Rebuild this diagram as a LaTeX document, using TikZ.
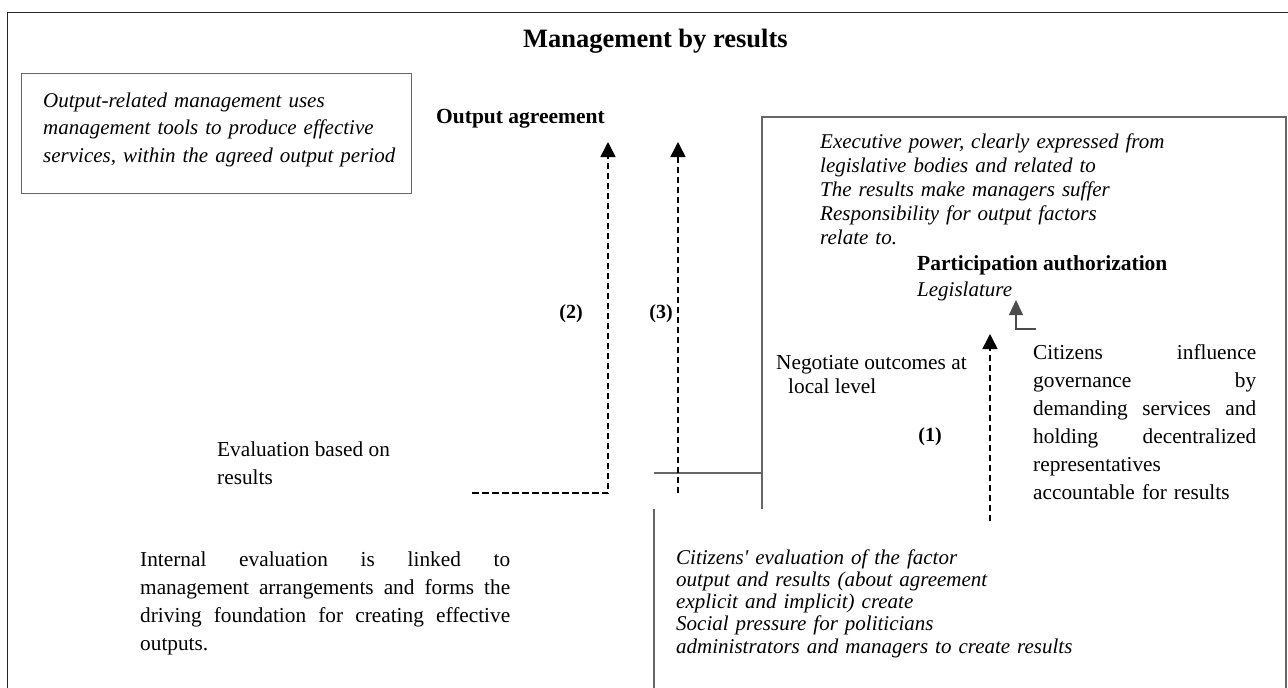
\documentclass[tikz,border=0pt]{standalone}
\usepackage{fontspec}
\setmainfont{Liberation Serif}
\usetikzlibrary{arrows.meta}
% one line spread to a given width (words separated by \hfill)
\newcommand\spreadline[2]{\leavevmode\hbox to #1{#2}}

\begin{document}
\begin{tikzpicture}[x=1pt,y=-1pt,
  frameline/.style={draw=black!85, line width=1pt},
  boxline/.style={draw=black!60, line width=1.2pt},
  flow/.style={draw=black, line width=1.6pt, dash pattern=on 6.5pt off 3.5pt,
    -{Triangle[width=15pt,length=15pt]}},
  elbow/.style={draw=black!70, line width=1.2pt, -{Triangle[width=14pt,length=15pt]}},
  regular/.style={font=\fontsize{21.3}{28}\selectfont, inner sep=0pt, anchor=north west, align=left},
  slanted/.style={font=\fontsize{21}{24}\selectfont\itshape, inner sep=0pt, anchor=north west, align=left},
  heading/.style={font=\fontsize{21.5}{26}\selectfont\bfseries, inner sep=0pt},
  tag/.style={font=\fontsize{20}{24}\selectfont\bfseries, inner sep=0pt}
]
\useasboundingbox (0,0) rectangle (1288,688);

% outer frame (open at right and bottom)
\draw[frameline] (7,688) -- (7,12) -- (1288,12);

% title
\node[font=\fontsize{26.5}{30}\selectfont\bfseries, inner sep=0pt, anchor=base west] (title) at (523,47) {Management by results};

% output-related management box
\node[draw, boxline, inner sep=0pt, minimum width=390pt, minimum height=120pt, anchor=north west] (outbox) at (21,73) {};
\node[slanted, font=\fontsize{21}{27.5}\selectfont\itshape, text width=370pt] (outtext) at (43,87.75) {\strut Output-related management uses\\
management tools to produce effective\\
services, within the agreed output period};

% output agreement
\node[heading, anchor=base west] (agree) at (436,123) {Output agreement};

% executive power box
\draw[boxline] (762,509) -- (762,117) -- (1286,117) -- (1286,688);
\node[slanted, text width=440pt] (exec) at (820,131.2) {\strut Executive power, clearly expressed from\\
legislative bodies and related to\\
The results make managers suffer\\
Responsibility for output factors\\
relate to.};
\node[heading, anchor=base west] (partic) at (917,270) {Participation authorization};
\node[font=\fontsize{21}{24}\selectfont\itshape, inner sep=0pt, anchor=base west] (legis) at (917,296) {Legislature};

% negotiation at local level
\node[font=\fontsize{21.3}{24}\selectfont, inner sep=0pt, anchor=north west, align=left] (negot) at (776,352.2) {\strut Negotiate outcomes at\\\hspace*{12pt}local level};

% citizens' influence
\node[regular, text width=223pt] (citin) at (1033,339.4) {\strut\spreadline{223pt}{Citizens\hfill influence}\\
\spreadline{223pt}{governance\hfill by}\\
\spreadline{223pt}{demanding\hfill services\hfill and}\\
\spreadline{223pt}{holding\hfill decentralized}\\
representatives\\
accountable for results};

% evaluation texts
\node[regular] (evalres) at (217,436.4) {\strut Evaluation based on\\results};
\node[regular, text width=370pt] (internal) at (140,546.4) {\strut\spreadline{370pt}{Internal\hfill evaluation\hfill is\hfill linked\hfill to}\\
\spreadline{370pt}{management\hfill arrangements\hfill and\hfill forms\hfill the}\\
\spreadline{370pt}{driving\hfill foundation\hfill for\hfill creating\hfill effective}\\
outputs.};

% citizens' evaluation
\node[slanted, font=\fontsize{21}{22.2}\selectfont\itshape, text width=440pt] (citeval) at (676,548.5) {\strut Citizens\textquotesingle\ evaluation of the factor\\
output and results (about agreement\\
explicit and implicit) create\\
Social pressure for politicians\\
administrators and managers to create results};

% solid connector lines
\coordinate (hl) at (654,473);
\coordinate (hr) at (762,473);
\draw[boxline] (hl) -- (hr);
\coordinate (vt) at (654,509);
\coordinate (vb) at (654,688);
\draw[boxline] (vt) -- (vb);

% flow (2)
\coordinate (s2) at (472,493);
\coordinate (k2) at (608,493);
\coordinate (t2) at (608,142);
\draw[flow] (s2) -- (k2) -- (t2);
\node[tag] (lab2) at (571,314) {(2)};

% flow (3)
\coordinate (s3) at (678,493);
\coordinate (t3) at (678,142);
\draw[flow] (s3) -- (t3);
\node[tag] (lab3) at (661,314) {(3)};

% flow (1)
\coordinate (s1) at (990,521);
\coordinate (t1) at (990,334);
\draw[flow] (s1) -- (t1);
\node[tag] (lab1) at (930,437) {(1)};

% citizens to legislature
\coordinate (ce) at (1036,329);
\coordinate (ck) at (1016,329);
\coordinate (ct) at (1016,300);
\draw[elbow] (ce) -- (ck) -- (ct);
\end{tikzpicture}
\end{document}
